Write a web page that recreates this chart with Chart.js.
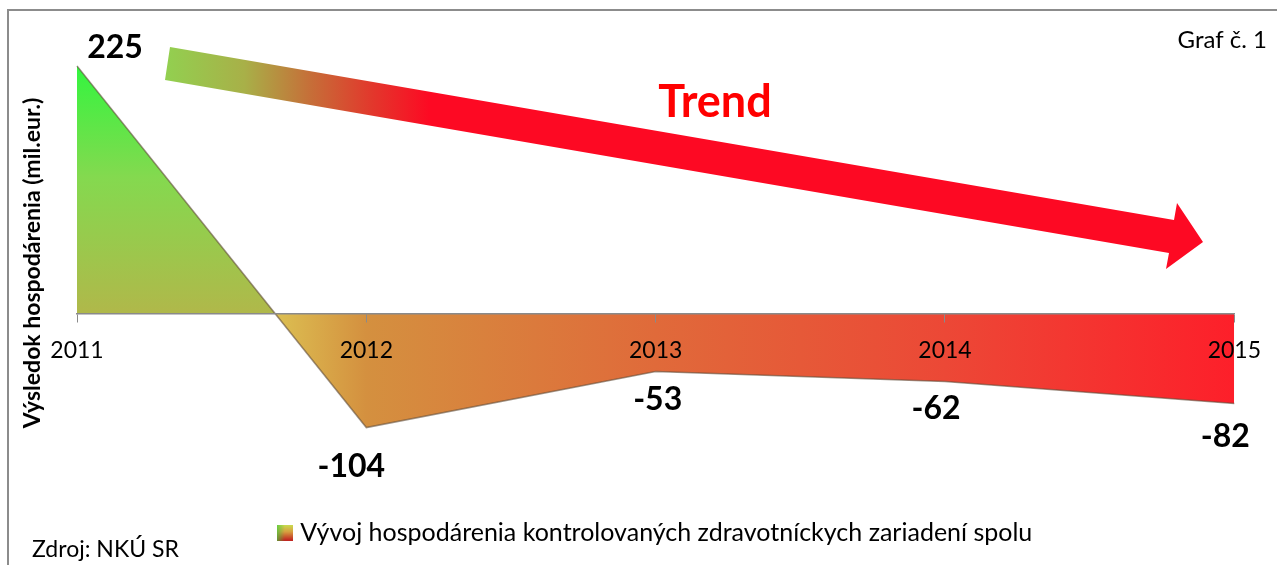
<!DOCTYPE html>
<html>
<head>
<meta charset="utf-8">
<script src="https://cdn.jsdelivr.net/npm/chart.js@4.4.1/dist/chart.umd.min.js"></script>
<style>
  html, body { margin: 0; padding: 0; background: #fff; }
  #wrap { width: 1277px; height: 565px; }
</style>
</head>
<body>
<div id="wrap"><canvas id="chart" width="1277" height="565"></canvas></div>
<script>
// data
const years = ['2011', '2012', '2013', '2014', '2015'];
const results = [225, -104, -53, -62, -82];
const seriesName = 'Vývoj hospodárenia kontrolovaných zdravotníckych zariadení spolu';
const yTitle = 'Výsledok hospodárenia (mil.eur.)';
const chartNo = 'Graf č. 1';
const sourceNote = 'Zdroj: NKÚ SR';
const trendText = 'Trend';

const FONT = 'Lato, "Open Sans", sans-serif';

// where the value labels sit relative to their point (dx, dy)
const labelShift = [[38, -18], [-15, 39], [2, 28], [-9, 27], [-9, 33]];

// small gradient square for the legend
const legendIcon = document.createElement('canvas');
legendIcon.width = 16;
legendIcon.height = 16;
(function () {
    const c = legendIcon.getContext('2d');
    const g = c.createLinearGradient(0, 0, 0, 16);
    g.addColorStop(0, '#c8e050');
    g.addColorStop(0.45, '#d8a040');
    g.addColorStop(1, '#c02020');
    c.fillStyle = g;
    c.fillRect(0, 0, 16, 16);
    const s = c.createLinearGradient(0, 0, 8, 0);
    s.addColorStop(0, 'rgba(60,200,60,0.7)');
    s.addColorStop(1, 'rgba(60,200,60,0)');
    c.fillStyle = s;
    c.fillRect(0, 0, 8, 16);
})();

const decorations = {
    id: 'decorations',
    beforeDraw(chart) {
        const c = chart.ctx;
        c.save();
        c.fillStyle = '#fff';
        c.fillRect(0, 0, chart.width, chart.height);
        // frame
        c.strokeStyle = '#8c8c8c';
        c.lineWidth = 2;
        c.beginPath();
        c.moveTo(8, chart.height + 5);
        c.lineTo(8, 10);
        c.lineTo(chart.width + 5, 10);
        c.stroke();

        // trend arrow
        const g = c.createLinearGradient(165, 0, 430, 0);
        g.addColorStop(0, '#92d050');
        g.addColorStop(0.3, '#a8b048');
        g.addColorStop(0.55, '#c66e38');
        g.addColorStop(0.78, '#e2382c');
        g.addColorStop(1, '#fd0923');
        c.fillStyle = g;
        c.beginPath();
        c.moveTo(170, 47);
        c.lineTo(1174, 220);
        c.lineTo(1177, 203);
        c.lineTo(1203, 242);
        c.lineTo(1166, 269);
        c.lineTo(1169, 253);
        c.lineTo(165, 80);
        c.closePath();
        c.fill();

        c.fillStyle = '#ff0000';
        c.font = 'bold 45px ' + FONT;
        c.textAlign = 'center';
        c.textBaseline = 'middle';
        c.fillText(trendText, 715, 102);

        // texts around the plot
        c.fillStyle = '#000';
        c.font = '24px ' + FONT;
        c.textAlign = 'right';
        c.fillText(chartNo, 1267, 40);
        c.font = '23px ' + FONT;
        c.textAlign = 'left';
        c.fillText(sourceNote, 32, 550);

        c.save();
        c.translate(33, 263);
        c.rotate(-Math.PI / 2);
        c.textAlign = 'center';
        c.font = 'bold 23px ' + FONT;
        c.fillText(yTitle, 0, 0);
        c.restore();
        c.restore();
    },
    afterDatasetsDraw(chart) {
        const c = chart.ctx;
        const pts = chart.getDatasetMeta(0).data;
        c.save();
        c.fillStyle = '#000';
        c.font = 'bold 32px ' + FONT;
        c.textAlign = 'center';
        c.textBaseline = 'middle';
        pts.forEach((p, i) => {
            c.fillText(String(results[i]), p.x + labelShift[i][0], p.y + labelShift[i][1]);
        });
        c.restore();
    }
};

const ctx = document.getElementById('chart').getContext('2d');

const chart = new Chart(ctx, {
    type: 'line',
    data: {
        labels: years,
        datasets: [{
            label: seriesName,
            data: results,
            fill: 'origin',
            backgroundColor: '#d88a40',
            borderColor: 'rgba(95,75,55,0.6)',
            borderWidth: 1.5,
            pointRadius: 0,
            tension: 0,
            clip: false
        }]
    },
    options: {
        responsive: false,
        animation: false,
        layout: {
            padding: { top: 66, right: 40, bottom: 10, left: 77 }
        },
        plugins: {
            legend: {
                position: 'bottom',
                labels: {
                    usePointStyle: true,
                    pointStyle: legendIcon,
                    boxWidth: 6,
                    padding: 10,
                    color: '#000',
                    font: { family: FONT, size: 25 }
                }
            },
            tooltip: { enabled: false }
        },
        scales: {
            x: {
                position: { y: 0 },
                offset: false,
                grid: {
                    display: true,
                    drawOnChartArea: false,
                    drawTicks: true,
                    tickLength: 8,
                    color: '#8a8a8a',
                    z: 1
                },
                border: { display: true, color: '#8a8a8a', width: 1.5, z: 1 },
                ticks: {
                    color: '#000',
                    padding: 16,
                    maxRotation: 0,
                    z: 1,
                    font: { family: FONT, size: 23 }
                }
            },
            y: {
                display: false,
                min: -179,
                max: 225
            }
        }
    },
    plugins: [decorations]
});

// fill gradients need the laid-out scales
const xScale = chart.scales.x;
const yScale = chart.scales.y;
const yTopPx = yScale.getPixelForValue(225);
const yZeroPx = yScale.getPixelForValue(0);
const aboveGrad = ctx.createLinearGradient(0, yTopPx, 0, yZeroPx);
aboveGrad.addColorStop(0, '#33f53f');
aboveGrad.addColorStop(0.45, '#84d94f');
aboveGrad.addColorStop(1, '#b0b84a');
const belowGrad = ctx.createLinearGradient(xScale.getPixelForValue(0), 0, xScale.getPixelForValue(4), 0);
belowGrad.addColorStop(0, '#c8c850');
belowGrad.addColorStop(0.17, '#dcc052');
belowGrad.addColorStop(0.25, '#d4903f');
belowGrad.addColorStop(0.5, '#e06a3a');
belowGrad.addColorStop(0.75, '#ec4836');
belowGrad.addColorStop(1, '#fd1f2a');
chart.data.datasets[0].fill = { target: 'origin', above: aboveGrad, below: belowGrad };
chart.update();
</script>
</body>
</html>
